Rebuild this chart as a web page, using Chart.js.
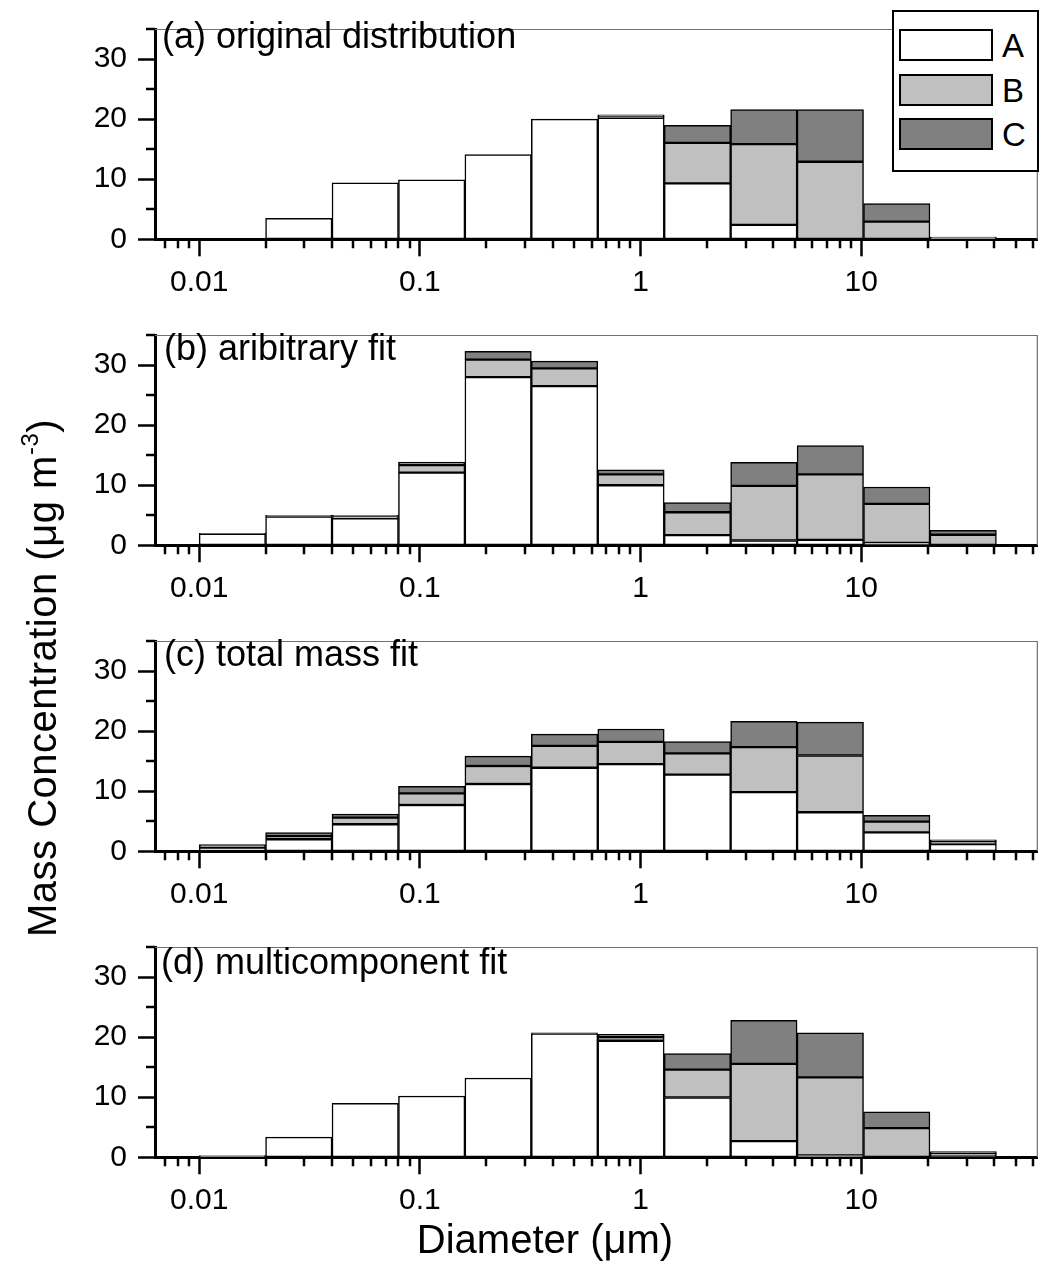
<!DOCTYPE html>
<html><head><meta charset="utf-8">
<script src="https://cdn.jsdelivr.net/npm/chart.js@4.4.0/dist/chart.umd.min.js"></script>
<style>
html,body{margin:0;padding:0;background:#fff;}
#root{position:relative;width:1041px;height:1272px;overflow:hidden;font-family:"Liberation Sans",Arial,sans-serif;color:#000;}
#root canvas{position:absolute;left:0;}
.plabel{position:absolute;font-size:36px;line-height:36px;white-space:nowrap;}
#legend{position:absolute;box-sizing:border-box;border:2px solid #000;background:#fff;}
.sw{position:absolute;box-sizing:border-box;border:2px solid #000;}
.lt{position:absolute;font-size:33px;line-height:33px;}
#ytitle{position:absolute;font-size:40px;line-height:40px;letter-spacing:0.5px;white-space:nowrap;transform:translate(-50%,-50%) rotate(-90deg);}
#xtitle{position:absolute;font-size:40px;line-height:40px;white-space:nowrap;transform:translateX(-50%);}
sup{font-size:0.6em;vertical-align:0.75em;line-height:0;}
</style></head>
<body><div id="root"></div>
<script>
// ---------------- data ----------------
const binEdges = [0.01, 0.02, 0.04, 0.08, 0.16, 0.32, 0.64, 1.28, 2.56, 5.12, 10.24, 20.48, 40.96];
const seriesNames = ['A', 'B', 'C'];
const seriesColors = ['#ffffff', '#c0c0c0', '#808080'];
const panelTitles = ['(a) original distribution', '(b) aribitrary fit', '(c) total mass fit', '(d) multicomponent fit'];

const origA = [0, 3.5, 9.4, 9.9, 14.1, 20.0, 20.2, 9.3, 2.4, 0, 0, 0];
const origB = [0, 0, 0, 0, 0, 0, 0.25, 6.75, 13.45, 12.9, 2.95, 0.15];
const origC = [0, 0, 0, 0, 0, 0, 0.25, 2.9, 5.75, 8.7, 3.0, 0.2];

const arbA = [1.9, 4.8, 4.5, 12.1, 28.0, 26.5, 10.0, 1.7, 0.8, 0.9, 0.4, 0];
const arbB = [0.05, 0.1, 0.3, 1.25, 2.9, 2.95, 1.8, 3.8, 9.1, 10.9, 6.5, 1.75];
const arbC = [0.05, 0.1, 0.2, 0.5, 1.4, 1.2, 0.75, 1.6, 3.9, 4.8, 2.8, 0.75];

const totA = [0.6, 2.0, 4.5, 7.7, 11.2, 13.9, 14.5, 12.75, 9.85, 6.5, 3.15, 1.2];
const totB = [0.3, 0.5, 1.1, 1.95, 3.0, 3.65, 3.7, 3.55, 7.5, 9.45, 1.8, 0.4];
const totC = [0.2, 0.6, 0.6, 1.15, 1.65, 1.95, 2.15, 1.95, 4.3, 5.55, 1.05, 0.3];

const mcA = [0.3, 3.35, 9.0, 10.2, 13.2, 20.6, 19.4, 9.95, 2.7, 0.3, 0, 0.35];
const mcB = [0, 0, 0, 0, 0, 0.1, 0.6, 4.65, 12.85, 13.0, 4.85, 0.3];
const mcC = [0, 0, 0, 0, 0, 0, 0.45, 2.65, 7.25, 7.4, 2.7, 0.3];

const xMajorTicks = [0.01, 0.1, 1, 10];
const xTickLabels = ['0.01', '0.1', '1', '10'];
const yTickValues = [0, 5, 10, 15, 20, 25, 30, 35];
const yTickLabels = ['0', '', '10', '', '20', '', '30', ''];
const xMin = Math.pow(10, -2.2), xMax = Math.pow(10, 1.8);
const yMin = 0, yMax = 35;

const panelData = [[origA, origB, origC], [arbA, arbB, arbC], [totA, totB, totC], [mcA, mcB, mcC]];

// ---------------- layout ----------------
const FONT = '"Liberation Sans", Arial, sans-serif';
const W = 1041, PANEL_STEP = 306, CANVAS_H = 306, PLOT_TOP = 10, PLOT_H = 229.3;
const labelPos = [[162, 48.5], [164, 360], [164, 666], [161, 974]]; // left, baseline

const binCenters = binEdges.slice(0, -1).map((e, i) => Math.sqrt(e * binEdges[i + 1]));

const xTickObjs = [];
for (let e = -3; e <= 1; e++) {
  for (let m = 1; m <= 9; m++) {
    const v = +(m * Math.pow(10, e)).toPrecision(6);
    if (v >= xMin && v <= xMax) xTickObjs.push({value: v, major: m === 1});
  }
}
const yTickObjs = yTickValues.map((v, i) => ({value: v, major: yTickLabels[i] !== ''}));

const framePlugin = {
  id: 'frameMinor',
  afterDraw(chart) {
    const {ctx, chartArea: a, scales: {x, y}} = chart;
    ctx.save();
    ctx.strokeStyle = '#707070';
    ctx.lineWidth = 1.2;
    ctx.beginPath();
    ctx.moveTo(a.left, a.top + 0.5);
    ctx.lineTo(a.right - 0.5, a.top + 0.5);
    ctx.lineTo(a.right - 0.5, a.bottom);
    ctx.stroke();
    ctx.strokeStyle = '#000';
    ctx.lineWidth = 2.5;
    ctx.beginPath();
    x.ticks.forEach(t => {
      if (!t.major) {
        const px = Math.round(x.getPixelForValue(t.value));
        ctx.moveTo(px, a.bottom);
        ctx.lineTo(px, a.bottom + 9);
      }
    });
    y.ticks.forEach(t => {
      if (!t.major) {
        const py = Math.round(y.getPixelForValue(t.value));
        ctx.moveTo(a.left, py);
        ctx.lineTo(a.left - 9, py);
      }
    });
    ctx.stroke();
    ctx.restore();
  }
};

const root = document.getElementById('root');

panelData.forEach((series, p) => {
  const cv = document.createElement('canvas');
  cv.width = W; cv.height = CANVAS_H;
  cv.style.top = (p * PANEL_STEP) + 'px';
  cv.style.width = W + 'px'; cv.style.height = CANVAS_H + 'px';
  root.appendChild(cv);
  const xAxisH = CANVAS_H - PLOT_TOP - PLOT_H;
  new Chart(cv.getContext('2d'), {
    type: 'bar',
    data: {
      datasets: seriesNames.map((name, s) => ({
        label: name,
        data: series[s].map((v, i) => ({x: binCenters[i], y: v})),
        backgroundColor: seriesColors[s],
        borderColor: '#000',
        borderWidth: 1.5,
        borderSkipped: false,
        barThickness: 'flex',
        categoryPercentage: 1,
        barPercentage: 1
      }))
    },
    options: {
      responsive: false,
      animation: false,
      devicePixelRatio: 1,
      layout: {padding: {top: PLOT_TOP, right: 2, left: 0, bottom: 0}},
      plugins: {legend: {display: false}, tooltip: {enabled: false}},
      scales: {
        x: {
          type: 'logarithmic', min: xMin, max: xMax, stacked: true, offset: false,
          afterBuildTicks: s => { s.ticks = xTickObjs.map(t => ({value: t.value, major: t.major})); },
          afterFit: s => { s.height = xAxisH; },
          grid: {offset: false, drawOnChartArea: false, drawTicks: true, tickLength: 17, tickWidth: 2.5,
                 tickColor: c => (c.tick && c.tick.major) ? '#000' : 'rgba(0,0,0,0)'},
          border: {display: true, color: '#000', width: 3},
          ticks: {autoSkip: false, maxRotation: 0, minRotation: 0, padding: 8, color: '#000',
                  font: {family: FONT, size: 30},
                  callback: (value) => {
                    const k = xMajorTicks.findIndex(t => Math.abs(t - value) < 1e-9);
                    return k >= 0 ? xTickLabels[k] : '';
                  }}
        },
        y: {
          type: 'linear', min: yMin, max: yMax, stacked: true,
          afterBuildTicks: s => { s.ticks = yTickObjs.map(t => ({value: t.value, major: t.major})); },
          afterFit: s => { s.width = 155; },
          grid: {drawOnChartArea: false, drawTicks: true, tickLength: 17, tickWidth: 2.5,
                 tickColor: c => (c.tick && c.tick.major) ? '#000' : 'rgba(0,0,0,0)'},
          border: {display: true, color: '#000', width: 3},
          ticks: {autoSkip: false, padding: 11, color: '#000', font: {family: FONT, size: 30},
                  callback: (value) => {
                    const k = yTickValues.indexOf(value);
                    return k >= 0 ? yTickLabels[k] : '';
                  }}
        }
      }
    },
    plugins: [framePlugin]
  });

  const lab = document.createElement('div');
  lab.className = 'plabel';
  lab.textContent = panelTitles[p];
  lab.style.left = labelPos[p][0] + 'px';
  lab.style.top = (labelPos[p][1] - 30.5) + 'px';
  root.appendChild(lab);
});

// legend (panel a)
const leg = document.createElement('div');
leg.id = 'legend';
leg.style.left = '892px'; leg.style.top = '10px'; leg.style.width = '147px'; leg.style.height = '162px';
const swTops = [17, 62, 106];
seriesNames.forEach((name, s) => {
  const sw = document.createElement('div');
  sw.className = 'sw';
  sw.style.left = '5px'; sw.style.top = swTops[s] + 'px'; sw.style.width = '94px'; sw.style.height = '32px';
  sw.style.background = seriesColors[s];
  leg.appendChild(sw);
  const t = document.createElement('div');
  t.className = 'lt';
  t.textContent = name;
  t.style.left = '108px'; t.style.top = (swTops[s] + 16 - 16.5) + 'px';
  leg.appendChild(t);
});
root.appendChild(leg);

const yt = document.createElement('div');
yt.id = 'ytitle';
yt.innerHTML = 'Mass Concentration (μg m<sup>-3</sup>)';
yt.style.left = '42px'; yt.style.top = '678px';
root.appendChild(yt);

const xt = document.createElement('div');
xt.id = 'xtitle';
xt.textContent = 'Diameter (μm)';
xt.style.left = '545px'; xt.style.top = '1219px';
root.appendChild(xt);
</script>
</body></html>
